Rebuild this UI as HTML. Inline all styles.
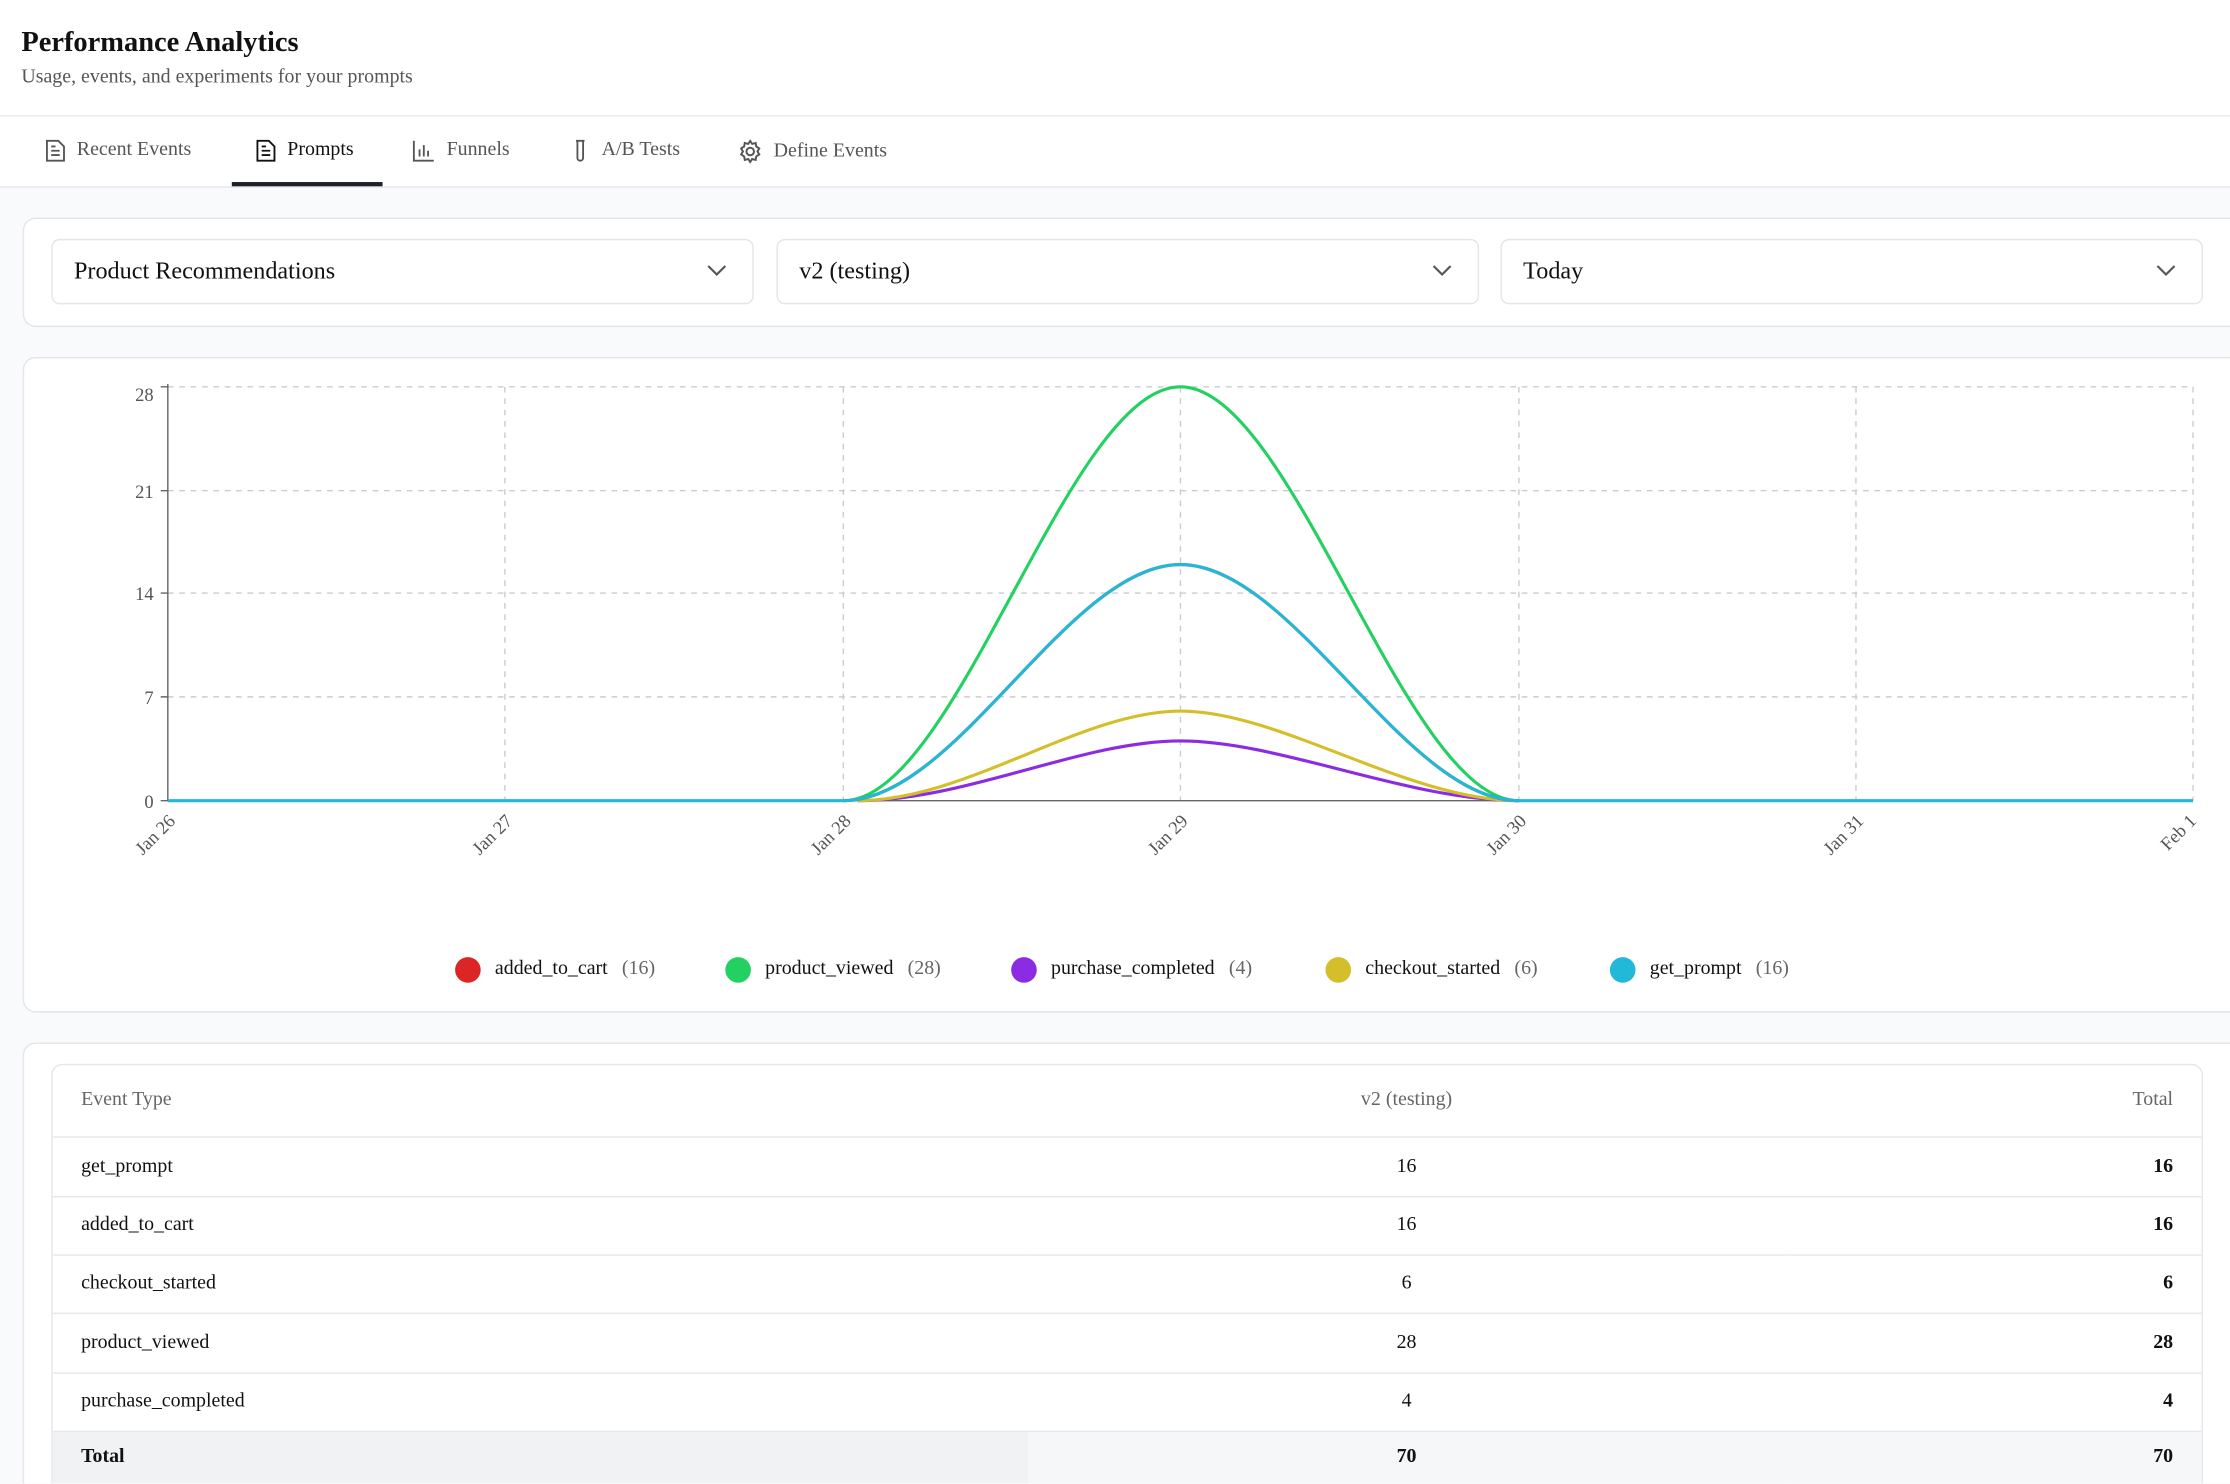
<!DOCTYPE html>
<html><head><meta charset="utf-8"><style>
html,body{margin:0;padding:0;width:2230px;height:1484px;overflow:hidden;background:#f9fafb;}
#wrap{position:absolute;left:0;top:0;width:2230px;height:1484px;overflow:hidden;background:#f9fafb;}
#s{position:absolute;left:0;top:0;width:1568px;height:1043px;overflow:hidden;transform:scale(1.42219);transform-origin:0 0;font-family:"Liberation Serif",serif;color:#111;background:#f9fafb;}
.a{position:absolute;}
.hdr{left:0;top:0;width:1568px;height:81px;background:#fff;border-bottom:1px solid #e5e7eb;}
.tabs{left:0;top:82px;width:1568px;height:49px;background:#fff;border-bottom:1px solid #e5e7eb;}
.tab{position:absolute;top:16px;font-size:14px;color:#555;display:flex;align-items:center;}
.tab svg{margin-right:8px}
.card{background:#fff;border:1px solid #e3e5e8;border-radius:9px;}
.sel{position:absolute;top:14px;height:44px;width:492px;border:1px solid #e3e5e8;border-radius:6px;font-size:17px;line-height:44px;}
.sel span{position:absolute;left:15px;}
.sel svg{position:absolute;right:18px;top:16px}
.lg{position:absolute;top:673px;font-size:14px;display:flex;align-items:center;}
.lg i{display:inline-block;width:18px;height:18px;border-radius:50%;margin-right:10px}
.lg b{font-weight:normal;color:#666;margin-left:10px}
table{border-collapse:collapse;width:1511px;font-size:14px;table-layout:fixed;}
td{height:40px;border-top:1px solid #e5e7eb;padding:0 20px;}
th{height:50px;font-weight:normal;color:#666;padding:0 20px;}
.c{text-align:center}.r{text-align:right;font-weight:bold}
</style></head><body><div id="wrap"><div id="s">
<div class="a hdr">
<div class="a" style="left:15px;top:19px;font-size:20px;font-weight:bold;">Performance Analytics</div>
<div class="a" style="left:15px;top:47px;font-size:14px;color:#555;">Usage, events, and experiments for your prompts</div>
</div>
<div class="a tabs">
<div class="tab" style="left:32px"><svg width="14" height="16" viewBox="0 0 14 16" fill="none" stroke="#555" stroke-width="1.3"><path d="M1 1h8l4 4v10H1z"/><path d="M4 8h6M4 11h6M4 5h3"/></svg>Recent Events</div>
<div class="tab" style="left:180px;color:#111"><svg width="14" height="16" viewBox="0 0 14 16" fill="none" stroke="#111" stroke-width="1.3"><path d="M1 1h8l4 4v10H1z"/><path d="M4 8h6M4 11h6M4 5h3"/></svg>Prompts</div>
<div class="a" style="left:163px;top:46px;width:106px;height:3px;background:#1f2329"></div>
<div class="tab" style="left:290px"><svg width="16" height="16" viewBox="0 0 16 16" fill="none" stroke="#555" stroke-width="1.3"><path d="M1 1v14h14M5 12V7M8 12V4M11 12V8"/></svg>Funnels</div>
<div class="tab" style="left:401px"><svg width="14" height="16" viewBox="0 0 14 16" fill="none" stroke="#555" stroke-width="1.3"><path d="M4 1h6M5 1v12a2 2 0 0 0 4 0V1"/></svg>A/B Tests</div>
<div class="tab" style="left:519px"><svg width="17" height="17" viewBox="0 0 16 16" fill="none" stroke="#555" stroke-width="1.3"><circle cx="8" cy="8" r="2.5"/><path d="M8 1l1.3 2 2.3-.6.4 2.3 2 1.3-1.2 2 1.2 2-2 1.3-.4 2.3-2.3-.6L8 15l-1.3-2-2.3.6-.4-2.3-2-1.3 1.2-2-1.2-2 2-1.3.4-2.3 2.3.6z"/></svg>Define Events</div>
</div>

<div class="a card" style="left:16px;top:153px;width:1570px;height:75px;">
<div class="sel" style="left:19px"><span>Product Recommendations</span><svg width="14" height="10" viewBox="0 0 14 10" fill="none" stroke="#555" stroke-width="1.5"><path d="M1 2l6 6 6-6"/></svg></div>
<div class="sel" style="left:529px"><span>v2 (testing)</span><svg width="14" height="10" viewBox="0 0 14 10" fill="none" stroke="#555" stroke-width="1.5"><path d="M1 2l6 6 6-6"/></svg></div>
<div class="sel" style="left:1038px"><span>Today</span><svg width="14" height="10" viewBox="0 0 14 10" fill="none" stroke="#555" stroke-width="1.5"><path d="M1 2l6 6 6-6"/></svg></div>
</div>

<div class="a card" style="left:16px;top:251px;width:1570px;height:459px;"></div>
<svg class="a" style="left:0;top:0" width="1568" height="720" font-family="Liberation Serif,serif">
<g stroke="#ccc" stroke-width="1" stroke-dasharray="4 4" fill="none">
<path d="M118 272H1542M118 345H1542M118 417H1542M118 490H1542"/>
<path d="M355 272V563M593 272V563M830 272V563M1068 272V563M1305 272V563M1542 272V563"/>
</g>
<path d="M118 270V563H1542" stroke="#666" fill="none"/>
<g stroke="#666"><path d="M113 272h5M113 345h5M113 417h5M113 490h5M113 563h5"/></g>
<g font-size="13" fill="#555" text-anchor="end">
<text x="108" y="282">28</text><text x="108" y="350">21</text><text x="108" y="422">14</text><text x="108" y="495">7</text><text x="108" y="568">0</text>
</g>
<g font-size="13" fill="#555" text-anchor="end">
<text transform="translate(124,578) rotate(-45)">Jan 26</text>
<text transform="translate(361,578) rotate(-45)">Jan 27</text>
<text transform="translate(599,578) rotate(-45)">Jan 28</text>
<text transform="translate(836,578) rotate(-45)">Jan 29</text>
<text transform="translate(1074,578) rotate(-45)">Jan 30</text>
<text transform="translate(1311,578) rotate(-45)">Jan 31</text>
<text transform="translate(1545,578) rotate(-45)">Feb 1</text>
</g>
<g fill="none" stroke-width="2.2">
<path stroke="#8b2be2" d="M603 563C680 563 760 521 830 521C900 521 990 563 1068 563"/>
<path stroke="#d4be2a" d="M603 563C680 563 760 500 830 500C900 500 990 563 1068 563"/>
<path stroke="#22d160" d="M593 563C673 563 751 272 830 272C909 272 988 563 1068 563"/>
<path stroke="#dc2626" d="M593 563C673 563 751 397 830 397C909 397 988 563 1068 563"/>
<path stroke="#22b8d8" d="M118 563H593C673 563 751 397 830 397C909 397 988 563 1068 563H1542"/>
</g>
</svg>
<div class="lg" style="left:320px"><i style="background:#dc2626"></i>added_to_cart<b>(16)</b></div>
<div class="lg" style="left:510px"><i style="background:#22d160"></i>product_viewed<b>(28)</b></div>
<div class="lg" style="left:711px"><i style="background:#8b2be2"></i>purchase_completed<b>(4)</b></div>
<div class="lg" style="left:932px"><i style="background:#d4be2a"></i>checkout_started<b>(6)</b></div>
<div class="lg" style="left:1132px"><i style="background:#22b8d8"></i>get_prompt<b>(16)</b></div>

<div class="a card" style="left:16px;top:733px;width:1570px;height:400px;"></div>
<div class="a" style="left:36px;top:748px;width:1511px;border:1px solid #e5e7eb;border-radius:8px;overflow:hidden;background:#fff;">
<table>
<colgroup><col style="width:686px"><col style="width:532px"><col style="width:293px"></colgroup>
<tr><th style="text-align:left">Event Type</th><th class="c">v2 (testing)</th><th style="text-align:right">Total</th></tr>
<tr><td style="height:41px">get_prompt</td><td class="c">16</td><td class="r">16</td></tr>
<tr><td>added_to_cart</td><td class="c">16</td><td class="r">16</td></tr>
<tr><td>checkout_started</td><td class="c">6</td><td class="r">6</td></tr>
<tr><td style="height:41px">product_viewed</td><td class="c">28</td><td class="r">28</td></tr>
<tr><td>purchase_completed</td><td class="c">4</td><td class="r">4</td></tr>
<tr style="font-weight:bold"><td style="background:#f1f2f4;height:40px;vertical-align:top;padding-top:10px">Total</td><td class="c" style="background:#f6f7f9;vertical-align:top;padding-top:10px">70</td><td class="r" style="background:#f6f7f9;vertical-align:top;padding-top:10px">70</td></tr>
</table>
</div>
</div></div></body></html>
